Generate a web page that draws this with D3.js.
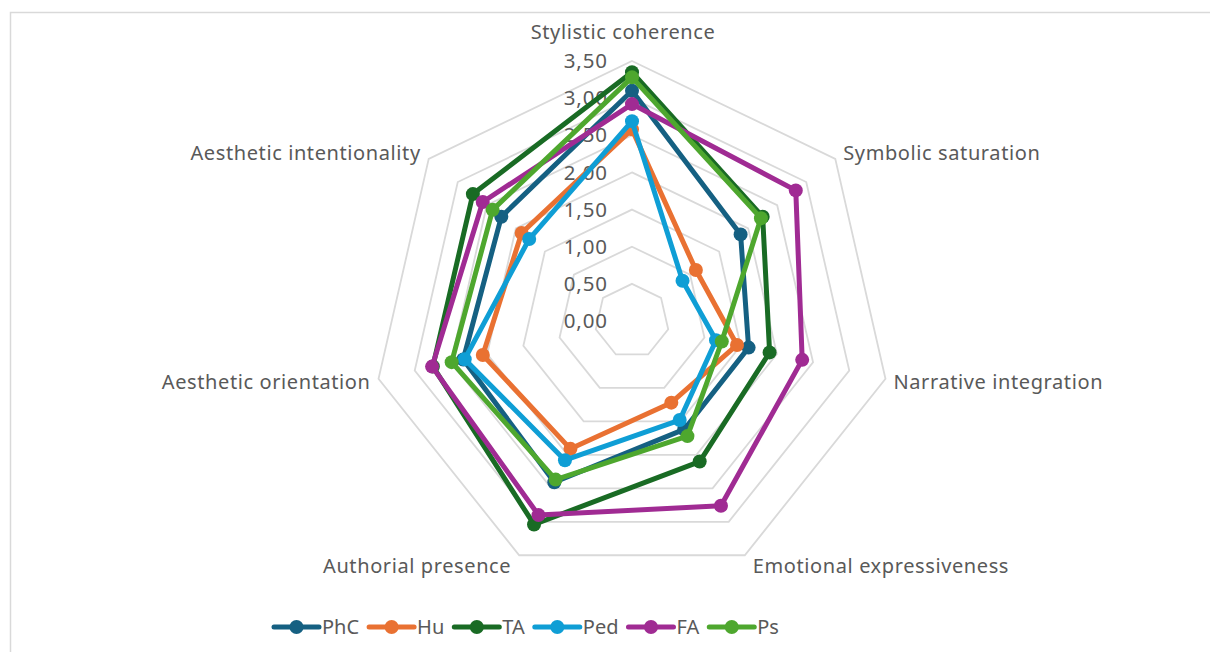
<!doctype html>
<html>
  <head>
    <script src="https://cdn.jsdelivr.net/npm/d3@7/dist/d3.min.js"></script>
    <style>
      body { margin: 0; background: #fff; }
      text { font-family: "Noto Sans", "Open Sans", sans-serif; fill: #595959; }
      .ring { fill: none; stroke: #d9d9d9; stroke-width: 1.8; }
      .series { fill: none; stroke-width: 5; stroke-linejoin: round; }
    </style>
  </head>
  <body>
    <svg width="1210" height="652"></svg>
    <script>
      var axes = ["Stylistic coherence", "Symbolic saturation", "Narrative integration",
        "Emotional expressiveness", "Authorial presence", "Aesthetic orientation",
        "Aesthetic intentionality"];
      var ticks = [0, 0.5, 1, 1.5, 2, 2.5, 3, 3.5];
      var seriesNames = ["PhC", "Hu", "TA", "Ped", "FA", "Ps"];
      var colors = ["#156082", "#E97132", "#196B24", "#0F9ED5", "#A02B93", "#4EA72E"];

      var PhC = [3.10, 1.87, 1.61, 1.62, 2.41, 2.33, 2.25];
      var Hu  = [2.58, 1.10, 1.45, 1.22, 1.91, 2.06, 1.90];
      var TA  = [3.35, 2.25, 1.90, 2.10, 3.04, 2.75, 2.74];
      var Ped = [2.69, 0.87, 1.16, 1.48, 2.08, 2.31, 1.77];
      var FA  = [2.92, 2.82, 2.35, 2.76, 2.90, 2.76, 2.57];
      var Ps  = [3.28, 2.22, 1.24, 1.72, 2.37, 2.49, 2.40];
      var values = [PhC, Hu, TA, Ped, FA, Ps];

      var cx = 632, cy = 321, R = 260;
      var svg = d3.select("svg");

      // frame
      svg.append("rect")
        .attr("x", 10.5).attr("y", 12.5)
        .attr("width", 1220).attr("height", 660)
        .attr("fill", "none").attr("stroke", "#d9d9d9").attr("stroke-width", 1.5);

      var r = d3.scaleLinear().domain([0, 3.5]).range([0, R]);
      var angle = d3.scaleLinear().domain([0, axes.length]).range([0, 2 * Math.PI]);

      var g = svg.append("g").attr("transform", `translate(${cx},${cy})`);

      var ring = d3.lineRadial()
        .angle((d, i) => angle(i))
        .radius(d => r(d))
        .curve(d3.curveLinearClosed);

      g.selectAll("path.ring")
        .data(ticks.filter(t => t > 0))
        .enter()
        .append("path")
          .attr("class", "ring")
          .attr("d", t => ring(axes.map(() => t)));

      g.selectAll("text.tick")
        .data(ticks)
        .enter()
        .append("text")
          .attr("class", "tick")
          .attr("x", -24)
          .attr("y", t => -r(t))
          .attr("dy", "0.35em")
          .style("text-anchor", "end")
          .style("font-size", "20.5px")
          .style("letter-spacing", "0.9px")
          .text(t => d3.format(".2f")(t).replace(".", ","));

      // axis labels
      axes.forEach((name, i) => {
        var a = angle(i);
        var s = Math.sin(a), c = Math.cos(a);
        var x = s * R, y = -c * R;
        var anchor = Math.abs(s) < 0.01 ? "middle" : (s > 0 ? "start" : "end");
        var dx = Math.abs(s) < 0.01 ? -9 : (s > 0 ? 8 : -8);
        var dy = c > 0.9 ? -29 : (c < -0.8 ? 11 : (c > 0 ? -6 : 3));
        g.append("text")
          .attr("x", x + dx)
          .attr("y", y + dy)
          .attr("dy", "0.35em")
          .style("text-anchor", anchor)
          .style("font-size", "20px")
          .style("letter-spacing", "0.6px")
          .text(name);
      });

      var line = d3.lineRadial()
        .angle((d, i) => angle(i))
        .radius(d => r(d))
        .curve(d3.curveLinearClosed);

      var series = g.selectAll("g.series")
        .data(values)
        .enter()
        .append("g");

      series.append("path")
        .attr("class", "series")
        .attr("stroke", (d, i) => colors[i])
        .attr("d", d => line(d));

      series.each(function(d, si) {
        d3.select(this).selectAll("circle")
          .data(d)
          .enter()
          .append("circle")
            .attr("cx", (v, i) => Math.sin(angle(i)) * r(v))
            .attr("cy", (v, i) => -Math.cos(angle(i)) * r(v))
            .attr("r", 7)
            .attr("fill", colors[si]);
      });

      // legend
      var lx = 274, ly = 627;
      seriesNames.forEach((name, i) => {
        var item = svg.append("g").attr("transform", `translate(${lx},${ly})`);
        item.append("line")
          .attr("x1", 0).attr("x2", 45)
          .attr("stroke", colors[i]).attr("stroke-width", 5)
          .attr("stroke-linecap", "round");
        item.append("circle")
          .attr("cx", 22.5).attr("r", 7)
          .attr("fill", colors[i]);
        var t = item.append("text")
          .attr("x", 48)
          .attr("dy", "0.35em")
          .style("font-size", "20px")
          .text(name);
        lx += 48 + t.node().getComputedTextLength() + 10;
      });
    </script>
  </body>
</html>
